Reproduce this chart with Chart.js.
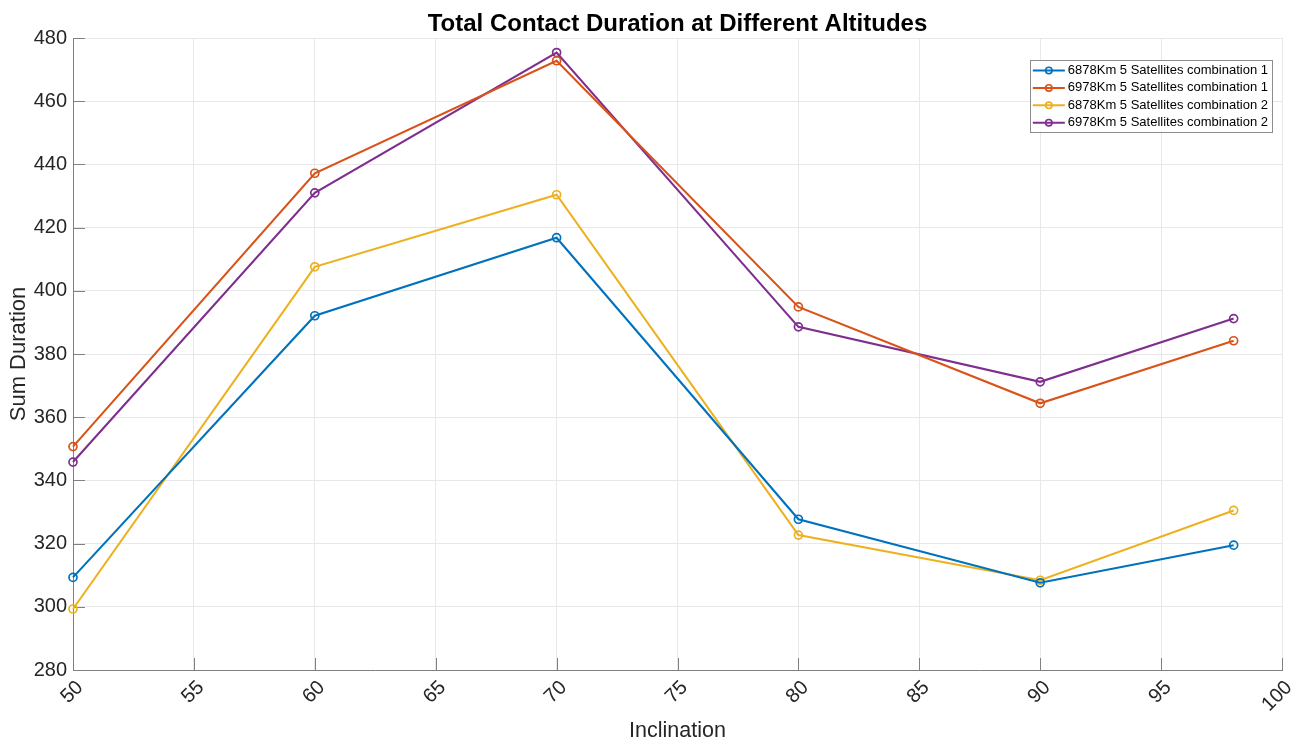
<!DOCTYPE html>
<html>
<head>
<meta charset="utf-8">
<script src="https://cdn.jsdelivr.net/npm/chart.js@4"></script>
<style>
html,body{margin:0;padding:0;background:#fff;}
#wrap{width:1296px;height:742px;position:relative;}
</style>
</head>
<body>
<div id="wrap"><canvas id="c" width="1296" height="742"></canvas></div>
<script>
// ---- data ----
const chartTitle = 'Total Contact Duration at Different Altitudes';
const inclination = [50, 60, 70, 80, 90, 98];
const seriesLabels = [
  '6878Km 5 Satellites combination 1',
  '6978Km 5 Satellites combination 1',
  '6878Km 5 Satellites combination 2',
  '6978Km 5 Satellites combination 2'
];
const alt6878c1 = [309.3, 392.1, 416.8, 327.7, 307.6, 319.5];
const alt6978c1 = [350.7, 437.2, 472.8, 394.9, 364.4, 384.2];
const alt6878c2 = [299.3, 407.6, 430.4, 322.7, 308.4, 330.5];
const alt6978c2 = [345.8, 431.0, 475.4, 388.6, 371.2, 391.2];
const xTicks = [50, 55, 60, 65, 70, 75, 80, 85, 90, 95, 100];
const yTicks = [280, 300, 320, 340, 360, 380, 400, 420, 440, 460, 480];

const colors = ['#0072BD', '#D95319', '#EDB120', '#7E2F8E'];
const seriesValues = [alt6878c1, alt6978c1, alt6878c2, alt6978c2];
const FONT = "'Liberation Sans', Arial, Helvetica, sans-serif";

const datasets = seriesValues.map((vals, i) => ({
  label: seriesLabels[i],
  data: inclination.map((x, j) => ({x: x, y: vals[j]})),
  borderColor: colors[i],
  backgroundColor: 'rgba(0,0,0,0)',
  borderWidth: 2.1,
  pointRadius: 4,
  pointBorderWidth: 1.7,
  pointBackgroundColor: 'rgba(0,0,0,0)',
  pointBorderColor: colors[i],
  tension: 0,
  clip: false
}));

const innerTicks = {
  id: 'innerTicks',
  beforeDatasetsDraw(chart) {
    const ctx = chart.ctx, a = chart.chartArea;
    const xs = chart.scales.x, ys = chart.scales.y;
    ctx.save();
    ctx.strokeStyle = '#808080';
    ctx.lineWidth = 1;
    ctx.beginPath();
    xs.ticks.forEach(t => {
      const px = Math.round(xs.getPixelForValue(t.value)) + 0.5;
      ctx.moveTo(px, a.bottom); ctx.lineTo(px, a.bottom - 12);
    });
    ys.ticks.forEach(t => {
      const py = Math.round(ys.getPixelForValue(t.value)) + 0.5;
      ctx.moveTo(a.left, py); ctx.lineTo(a.left + 12, py);
    });
    ctx.stroke();
    ctx.restore();
  }
};

const areaTitle = {
  id: 'areaTitle',
  afterDraw(chart) {
    const ctx = chart.ctx, a = chart.chartArea;
    ctx.save();
    ctx.font = 'bold 24px ' + FONT;
    ctx.fillStyle = '#000';
    ctx.textAlign = 'center';
    ctx.textBaseline = 'alphabetic';
    ctx.fillText(chartTitle, (a.left + a.right) / 2, a.top - 7);
    ctx.restore();
  }
};

const boxLegend = {
  id: 'boxLegend',
  afterDraw(chart) {
    const ctx = chart.ctx, a = chart.chartArea;
    ctx.save();
    ctx.font = '13px ' + FONT;
    let tw = 0;
    chart.data.datasets.forEach(d => { tw = Math.max(tw, ctx.measureText(d.label).width); });
    const rowH = 17.4;
    const w = 38 + tw + 4;
    const h = rowH * chart.data.datasets.length + 2;
    const x0 = a.right - 10 - w;
    const y0 = a.top + 22;
    ctx.fillStyle = '#fff';
    ctx.fillRect(x0, y0, w, h);
    ctx.strokeStyle = '#8c8c8c';
    ctx.lineWidth = 1;
    ctx.strokeRect(Math.round(x0) + 0.5, Math.round(y0) + 0.5, Math.round(w), Math.round(h));
    chart.data.datasets.forEach((d, i) => {
      const cy = y0 + 10.5 + i * rowH;
      ctx.strokeStyle = d.borderColor;
      ctx.lineWidth = 2;
      ctx.beginPath();
      ctx.moveTo(x0 + 3, cy); ctx.lineTo(x0 + 35, cy);
      ctx.stroke();
      ctx.lineWidth = 1.6;
      ctx.beginPath();
      ctx.arc(x0 + 19, cy, 3.2, 0, Math.PI * 2);
      ctx.stroke();
      ctx.fillStyle = '#000';
      ctx.textBaseline = 'middle';
      ctx.textAlign = 'left';
      ctx.fillText(d.label, x0 + 38, cy);
    });
    ctx.restore();
  }
};

new Chart(document.getElementById('c'), {
  type: 'line',
  data: { datasets: datasets },
  options: {
    responsive: false,
    animation: false,
    layout: { padding: { left: 0, right: 14, top: 38, bottom: 0 } },
    plugins: {
      legend: { display: false },
      tooltip: { enabled: false },
      title: { display: false }
    },
    scales: {
      x: {
        type: 'linear',
        min: 50, max: 100,
        afterBuildTicks(scale) { scale.ticks = xTicks.map(v => ({value: v})); },
        afterFit(scale) { scale.height = 72; scale.paddingLeft = 0; scale.paddingRight = 0; },
        ticks: {
          stepSize: 5,
          minRotation: 45, maxRotation: 45,
          padding: 6,
          labelOffset: 7,
          color: '#262626',
          font: { family: FONT, size: 20 }
        },
        grid: { color: '#e8e8e8', drawTicks: false, lineWidth: 1 },
        border: { display: true, color: '#808080', width: 1 },
        title: {
          display: true, text: 'Inclination', color: '#262626',
          font: { family: FONT, size: 21.5, lineHeight: 1 },
          padding: { top: 0, bottom: 0 }
        }
      },
      y: {
        type: 'linear',
        min: 280, max: 480,
        afterBuildTicks(scale) { scale.ticks = yTicks.map(v => ({value: v})); },
        afterFit(scale) { scale.width = 73; scale.paddingTop = 0; scale.paddingBottom = 0; },
        ticks: {
          stepSize: 20,
          padding: 6,
          color: '#262626',
          font: { family: FONT, size: 20 }
        },
        grid: { color: '#e8e8e8', drawTicks: false, lineWidth: 1 },
        border: { display: true, color: '#808080', width: 1 },
        title: {
          display: true, text: 'Sum Duration', color: '#262626',
          font: { family: FONT, size: 22, lineHeight: 1 },
          padding: { top: 8, bottom: 0 }
        }
      }
    }
  },
  plugins: [innerTicks, boxLegend, areaTitle]
});
</script>
</body>
</html>
